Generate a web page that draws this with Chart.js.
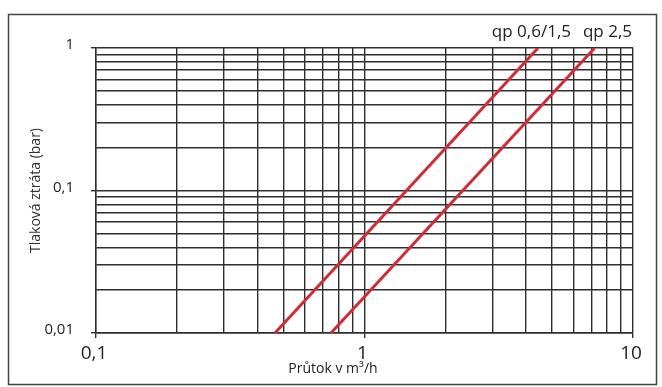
<!DOCTYPE html>
<html>
<head>
<meta charset="utf-8">
<script src="https://cdn.jsdelivr.net/npm/chart.js@4.4.1/dist/chart.umd.min.js"></script>
<style>
    html, body { margin: 0; padding: 0; background: #fff; }
    #wrap { width: 662px; height: 387px; position: relative; }
</style>
</head>
<body>
<div id="wrap"><canvas id="chart"></canvas></div>
<script>
// tlakova ztrata vodomeru
const seriesNames = ['qp 0,6/1,5', 'qp 2,5'];
const flowA = [0.464, 4.43];
const lossA = [0.01, 1];
const flowB = [0.75, 7.2];
const lossB = [0.01, 1];

const xTicks = [0.1, 0.2, 0.3, 0.4, 0.5, 0.6, 0.7, 0.8, 0.9, 1, 2, 3, 4, 5, 6, 7, 8, 9, 10];
const yTicks = [0.01, 0.02, 0.03, 0.04, 0.05, 0.06, 0.07, 0.08, 0.09, 0.1, 0.2, 0.3, 0.4, 0.5, 0.6, 0.7, 0.8, 0.9, 1];
const xTickLabels = { 0.1: '0,1', 1: '1', 10: '10' };
const yTickLabels = { 0.01: '0,01', 0.1: '0,1', 1: '1' };

const xTitle = 'Průtok v m³/h';
const yTitle = 'Tlaková ztráta (bar)';

const FONT = '"Open Sans", "Noto Sans", sans-serif';
const GRID = '#2e2e2e';
const RED = '#d02c38';

function toPoints(xs, ys) {
    return xs.map((x, i) => ({ x: x, y: ys[i] }));
}

const extras = {
    id: 'extras',
    afterDraw(chart) {
        const ctx = chart.ctx;
        const area = chart.chartArea;
        ctx.save();
        // ramecek kolem obrazku
        ctx.strokeStyle = '#444';
        ctx.lineWidth = 1.5;
        ctx.strokeRect(8.5, 14.5, 648, 370);

        ctx.fillStyle = '#222';
        ctx.textBaseline = 'middle';
        ctx.font = '17px ' + FONT;
        ctx.textAlign = 'right';
        ctx.fillText(seriesNames[1], area.right - 1, 32);
        ctx.fillText(seriesNames[0], area.right - 62, 32);

        ctx.font = '14px ' + FONT;
        ctx.textAlign = 'center';
        ctx.fillText(xTitle, 333, 369);
        ctx.restore();
    }
};

new Chart(document.getElementById('chart'), {
    type: 'line',
    data: {
        datasets: [
            {
                label: seriesNames[0],
                data: toPoints(flowA, lossA),
                borderColor: RED,
                borderWidth: 3,
                pointRadius: 0,
                tension: 0
            },
            {
                label: seriesNames[1],
                data: toPoints(flowB, lossB),
                borderColor: RED,
                borderWidth: 3,
                pointRadius: 0,
                tension: 0
            }
        ]
    },
    options: {
        responsive: true,
        maintainAspectRatio: false,
        animation: false,
        layout: { padding: { left: 0, top: 48, right: 29, bottom: 0 } },
        plugins: {
            legend: { display: false },
            tooltip: { enabled: false }
        },
        scales: {
            x: {
                type: 'logarithmic',
                min: 0.1,
                max: 10,
                afterBuildTicks: scale => { scale.ticks = xTicks.map(v => ({ value: v })); },
                afterFit: scale => { scale.height = 54; },
                ticks: {
                    autoSkip: false,
                    maxRotation: 0,
                    padding: 4,
                    labelOffset: -2,
                    color: '#222',
                    font: { family: FONT, size: 19 },
                    callback: v => xTickLabels[v] || ''
                },
                grid: {
                    color: GRID,
                    lineWidth: 1.4,
                    tickLength: 5,
                    tickColor: c => (c.tick && xTickLabels[c.tick.value]) ? GRID : 'rgba(0,0,0,0)'
                },
                border: { color: GRID, width: 1.4 }
            },
            y: {
                type: 'logarithmic',
                min: 0.01,
                max: 1,
                afterBuildTicks: scale => { scale.ticks = yTicks.map(v => ({ value: v })); },
                afterFit: scale => { scale.width = 96; },
                ticks: {
                    autoSkip: false,
                    padding: 17,
                    labelOffset: -3,
                    color: '#222',
                    font: { family: FONT, size: 15 },
                    callback: v => yTickLabels[v] || ''
                },
                grid: {
                    color: GRID,
                    lineWidth: 1.4,
                    tickLength: 5,
                    tickColor: c => (c.tick && yTickLabels[c.tick.value]) ? GRID : 'rgba(0,0,0,0)'
                },
                border: { color: GRID, width: 1.4 },
                title: {
                    display: true,
                    text: yTitle,
                    color: '#333',
                    font: { family: FONT, size: 14 },
                    padding: { top: 28, bottom: 0 }
                }
            }
        }
    },
    plugins: [extras]
});
</script>
</body>
</html>
